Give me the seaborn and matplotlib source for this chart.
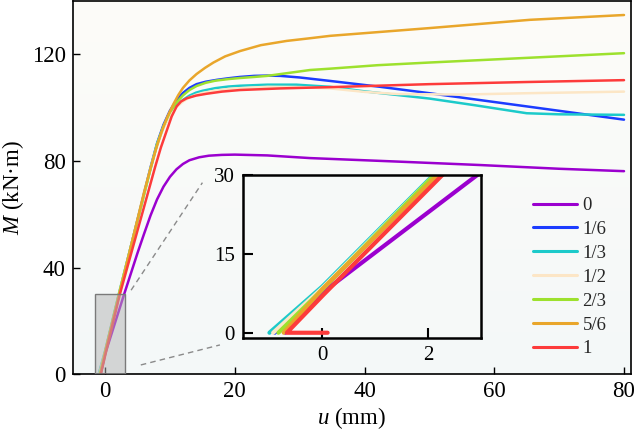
import numpy as np
import pandas as pd
import matplotlib
matplotlib.use("Agg")
import matplotlib.pyplot as plt
import seaborn as sns
from matplotlib.patches import Rectangle
from matplotlib.colors import LinearSegmentedColormap

# ---------------- data ----------------
labels = ["0", "1/6", "1/3", "1/2", "2/3", "5/6", "1"]
colors = ["#9b00cf", "#1c3cff", "#1ccaca", "#fce6c6", "#9de12e", "#e9a62b", "#fd3b3b"]

u_0 = [-0.7, 0.05, 2.93, 5, 6, 7, 8, 9, 10, 11, 12, 13, 14.5, 16, 18, 20, 25, 31.6, 34.7, 45, 57.8, 70, 80]
M_0 = [0, 8, 30, 45.5, 52.6, 59.5, 65.5, 70.3, 74, 76.8, 78.8, 80.2, 81.3, 81.9, 82.2, 82.3, 82.0, 81.0,
       80.7, 79.7, 78.4, 77.0, 76.1]

u_16 = [-0.9, 0, 2.15, 7, 8, 9, 10, 11, 12, 13, 14.1, 15.5, 17.2, 19, 20.8, 23, 25, 27, 30, 34.7, 42.4,
        50, 65.5, 80]
M_16 = [0, 8.3, 30, 77.5, 86.5, 93.5, 98.8, 102.6, 105.4, 107.3, 108.7, 109.6, 110.3, 110.9, 111.4,
        111.8, 111.9, 111.8, 111.2, 109.9, 107.7, 105.3, 100.2, 95.4]

u_13 = [-1.0, 0, 2.1, 7, 8, 9, 10, 11, 12, 13, 14, 15, 17, 19, 20.8, 25, 29.5, 34.7, 40, 50, 57, 65,
        70, 80]
M_13 = [0, 8.8, 30, 77, 86, 92.6, 97.4, 100.6, 102.8, 104.4, 105.5, 106.2, 107.2, 107.8, 108.1, 108.5,
        108.5, 107.7, 106, 103.3, 100.8, 97.8, 97.4, 97.2]

u_12 = [-0.93, 0, 2.12, 7, 8, 9, 10, 11, 12, 13, 14, 15, 17, 19, 20.8, 25, 30, 34.7, 40, 45, 55, 65, 80]
M_12 = [0, 8.5, 30, 77, 85.8, 92.3, 97, 100.1, 102.2, 103.7, 104.7, 105.4, 106.3, 106.9, 107.2, 107.7,
        107.6, 107.1, 105.8, 105.0, 104.8, 105.3, 105.9]

u_23 = [-0.83, 0, 2.12, 7, 8, 9, 10, 11, 12, 13, 14.1, 15.5, 17, 19, 20.8, 23, 25, 28, 31.6, 34.7, 42,
        50, 57.8, 80]
M_23 = [0, 8.2, 30, 77, 86.2, 93, 98.2, 101.8, 104.5, 106.5, 108, 109.2, 110, 110.6, 111, 111.4, 111.8,
        112.8, 114, 114.5, 115.8, 116.8, 117.7, 120.3]

u_56 = [-0.73, 0, 2.18, 6, 7, 7.8, 8.7, 9.6, 10.5, 11.3, 12, 13, 14.1, 15.4, 16.7, 18.5, 20.8, 24, 28,
        31.6, 34.7, 50, 65.5, 80]
M_56 = [0, 8.3, 30, 68.2, 77.2, 84, 90.8, 96.5, 101.1, 104.7, 107.3, 110.1, 112.5, 114.8, 116.8, 119.1,
        121.1, 123.3, 124.9, 125.9, 126.8, 129.7, 132.8, 134.6]

u_1 = [0.1, -0.67, 0.03, 2.27, 7.7, 8.6, 9.5, 10.26, 11.03, 11.7, 12.57, 14, 15.65, 18, 20.8, 27, 35,
       50, 65, 80]
M_1 = [0, 0, 7.3, 30, 77.6, 85, 91.3, 96.6, 100.4, 102.2, 103.4, 104.4, 105.1, 105.9, 106.5, 107.1,
       107.6, 108.7, 109.5, 110.2]

series_u = [u_0, u_16, u_13, u_12, u_23, u_56, u_1]
series_M = [M_0, M_16, M_13, M_12, M_23, M_56, M_1]

frames = []
for lab, uu, mm in zip(labels, series_u, series_M):
    frames.append(pd.DataFrame({"u": uu, "M": mm, "ratio": lab}))
df = pd.concat(frames, ignore_index=True)
palette = dict(zip(labels, colors))

# ---------------- style ----------------
sns.set_theme(style="ticks")
plt.rcParams["font.family"] = ["Liberation Serif", "DejaVu Serif"]
plt.rcParams["mathtext.fontset"] = "custom"
plt.rcParams["mathtext.it"] = "Liberation Serif:italic"
plt.rcParams["mathtext.rm"] = "Liberation Serif"

W, H = 635, 430
fig = plt.figure(figsize=(W / 100, H / 100), dpi=100)

def px_box(l, r, t, b):
    return [l / W, (H - b) / H, (r - l) / W, (b - t) / H]

main_box = px_box(72.7, 630.5, 0.6, 374.3)

# gradient background
bg = fig.add_axes(main_box, zorder=0)
bg.axis("off")
cmap = LinearSegmentedColormap.from_list("bg", ["#f4f8f9", "#fdfcf8"])
grad = np.linspace(0, 1, 256).reshape(-1, 1)
bg.imshow(grad, cmap=cmap, aspect="auto", origin="lower", extent=[0, 1, 0, 1])
bg.set_xlim(0, 1)
bg.set_ylim(0, 1)

ax = fig.add_axes(main_box, zorder=1)
ax.patch.set_alpha(0)

sns.lineplot(data=df, x="u", y="M", hue="ratio", hue_order=labels, palette=palette,
             sort=False, estimator=None, linewidth=1.8, ax=ax)

ax.set_xlim(-5, 81)
ax.set_ylim(0, 140)
ax.set_xticks([0, 20, 40, 60, 80])
ax.set_yticks([0, 40, 80, 120])
ax.tick_params(direction="in", length=5, width=1.0, labelsize=16.5, pad=5, colors="black")
for s in ax.spines.values():
    s.set_linewidth(1.2)
    s.set_color("black")
ax.set_xlabel(r"$u$ (mm)", fontsize=16.5, labelpad=2, color="black")
ax.set_ylabel(r"$M$ (kN·m)", fontsize=16.5, labelpad=4, color="black")

# zoom rectangle
ax.add_patch(Rectangle((-1.5, 0), 4.5, 30, facecolor=(0.70, 0.70, 0.70, 0.5),
                       edgecolor="#7a7a7a", linewidth=1.0, zorder=3))
# dashed connectors
ax.plot([4.0, 15.0], [31.5, 71.8], linestyle=(0, (4, 3)), color="#8a8a8a", linewidth=1.0, zorder=3)
ax.plot([5.5, 17.7], [3.5, 11.0], linestyle=(0, (4, 3)), color="#8a8a8a", linewidth=1.0, zorder=3)

# legend
handles, labs = ax.get_legend_handles_labels()
for h in handles:
    h.set_linewidth(2.2)
leg = ax.legend(handles, labs, frameon=False, fontsize=13.5, loc="upper left",
                bbox_to_anchor=(532.7 / W, (H - 197) / H), bbox_transform=fig.transFigure,
                borderpad=0, borderaxespad=0, handlelength=2.35, handletextpad=0.3,
                labelspacing=0.36)

# inset
ax_in = fig.add_axes(px_box(243, 481, 175, 338), zorder=2)
ax_in.set_facecolor("#f6f9f8")
sns.lineplot(data=df, x="u", y="M", hue="ratio", hue_order=labels, palette=palette,
             sort=False, estimator=None, linewidth=3.0, legend=False, ax=ax_in)
ax_in.set_xlim(-1.5, 3)
ax_in.set_ylim(-1, 30)
ax_in.set_xticks([0, 2])
ax_in.set_yticks([0, 15, 30])
ax_in.tick_params(direction="in", length=7, width=1.5, labelsize=15, pad=6, colors="black")
ax_in.set_xlabel("")
ax_in.set_ylabel("")
for s in ax_in.spines.values():
    s.set_linewidth(1.8)
    s.set_color("black")

fig.savefig("out.png", dpi=100)
